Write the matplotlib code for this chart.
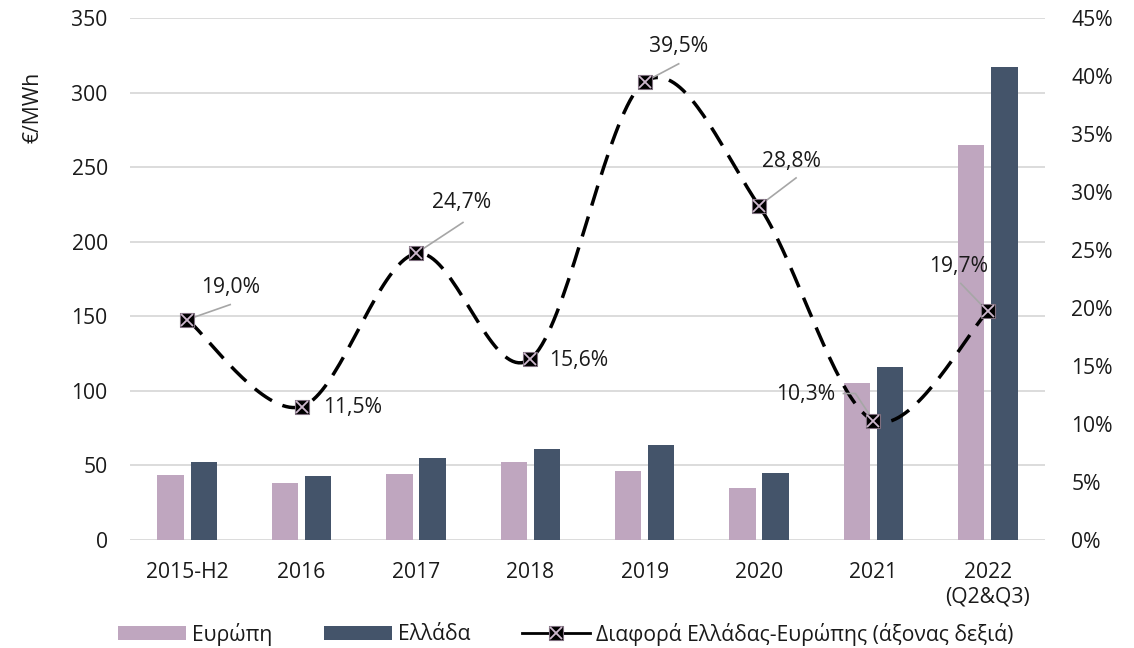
import numpy as np
import matplotlib
matplotlib.use("Agg")
import matplotlib.pyplot as plt
from matplotlib.patches import Patch
from matplotlib.lines import Line2D

plt.rcParams['font.family'] = ['Open Sans', 'DejaVu Sans']
FS = 15.2

# data
categories = ["2015-H2", "2016", "2017", "2018", "2019", "2020", "2021", "2022\n(Q2&Q3)"]
europe = [43.5, 38.5, 44, 52.5, 46, 35, 105, 265]
greece = [52, 43, 55, 61, 64, 45, 116, 317]
diff_pct = [19.0, 11.5, 24.7, 15.6, 39.5, 28.8, 10.3, 19.7]

# label offsets in pixels (text centre, leader end points)
label_text_off = [(43, 32), (51, -1), (46, 51), (48, -1), (34, 35), (32, 44), (-68, 26), (-29, 45)]
label_leader = [[(43, 15)], None, [(47, 31)], None, [(34, 18)], [(37, 28)],
                [(-18, 27), (-30, 27)], [(-27, 28)]]

c_eu = "#BFA6BF"
c_gr = "#44546A"
c_grid = "#D9D9D9"
c_lead = "#A6A6A6"
c_txt = "#1a1a1a"


def catmull_rom(x, y, n=40):
    # smooth curve through every point, like a spreadsheet "smoothed line"
    x = np.asarray(x, float)
    y = np.asarray(y, float)
    px = np.concatenate([[x[0]], x, [x[-1]]])
    py = np.concatenate([[y[0]], y, [y[-1]]])
    xs, ys = [], []
    t = np.linspace(0, 1, n)
    for i in range(1, len(px) - 2):
        for arr, out in ((px, xs), (py, ys)):
            p0, p1, p2, p3 = arr[i - 1], arr[i], arr[i + 1], arr[i + 2]
            out.append(0.5 * (2 * p1 + (-p0 + p2) * t + (2 * p0 - 5 * p1 + 4 * p2 - p3) * t ** 2
                              + (-p0 + 3 * p1 - 3 * p2 + p3) * t ** 3))
    return np.concatenate(xs), np.concatenate(ys)


fig = plt.figure(figsize=(11.34, 6.48), dpi=100)
ax = fig.add_axes([130 / 1134, 108 / 648, 915 / 1134, 522 / 648])
ax2 = ax.twinx()

x = np.arange(len(categories))
w = 0.23
ax.bar(x - 0.145, europe, w, color=c_eu, zorder=2)
ax.bar(x + 0.145, greece, w, color=c_gr, zorder=2)

ax.set_ylim(0, 350)
ax.set_yticks(np.arange(0, 351, 50))
ax.set_xlim(-0.5, len(categories) - 0.5)
ax.set_xticks(x)
ax.set_xticklabels(categories)
ax.yaxis.grid(True, color=c_grid, lw=1.3, zorder=0)
ax.set_axisbelow(True)
ax.tick_params(length=0, colors=c_txt, labelsize=FS)
ax.tick_params(axis='x', pad=16)
ax.tick_params(axis='y', pad=16)
for s in ax.spines.values():
    s.set_visible(False)

# difference line on the right axis
ax2.set_ylim(0, 45)
ax2.set_yticks(np.arange(0, 46, 5))
ax2.set_yticklabels([f"{v}%" for v in range(0, 46, 5)])
ax2.tick_params(length=0, colors=c_txt, labelsize=FS, pad=19)
for s in ax2.spines.values():
    s.set_visible(False)

sx, sy = catmull_rom(x, diff_pct)
ax2.plot(sx, sy, color="black", lw=2.5, dashes=(6, 3.3), zorder=3)
ax2.plot(x, diff_pct, ls="none", marker="s", ms=10.5, mfc="black", mec="#7f6f7f", mew=0.8, zorder=4)
ax2.plot(x, diff_pct, ls="none", marker="x", ms=8.5, mec="#CDB8CD", mew=1.3, zorder=5)

for xi, v, toff, lead in zip(x, diff_pct, label_text_off, label_leader):
    px, py = ax2.transData.transform((xi, v))
    if lead:
        pts = [(px, py)] + [(px + dx, py + dy) for dx, dy in lead]
        data_pts = ax2.transData.inverted().transform(pts)
        ax2.plot(data_pts[:, 0], data_pts[:, 1], color=c_lead, lw=1.2, zorder=3.5)
    ax2.annotate(f"{v:.1f}".replace(".", ",") + "%", (xi, v), xytext=toff,
                 textcoords="offset pixels", ha="center", va="center",
                 fontsize=FS, color=c_txt, zorder=6)

fig.text(33 / 1134, 1 - 107 / 648, "€/MWh", rotation=90, ha="center", va="center",
         fontsize=FS, color=c_txt)

h_eu = Patch(facecolor=c_eu)
h_gr = Patch(facecolor=c_gr)
h_ln = (Line2D([], [], color="black", lw=2.0),
        Line2D([], [], ls="none", marker="s", ms=10.5, mfc="black", mec="#7f6f7f", mew=0.8),
        Line2D([], [], ls="none", marker="x", ms=8.5, mec="#CDB8CD", mew=1.3))
fig.legend([h_eu, h_gr, h_ln],
           ["Ευρώπη", "Ελλάδα", "Διαφορά Ελλάδας-Ευρώπης (άξονας δεξιά)"],
           loc="center", bbox_to_anchor=(566 / 1134, 1 - 634 / 648), ncol=3, frameon=False,
           handlelength=3.2, handleheight=0.6, handletextpad=0.3, columnspacing=2.45,
           fontsize=FS, labelcolor=c_txt)

fig.savefig("out.png", dpi=100)
